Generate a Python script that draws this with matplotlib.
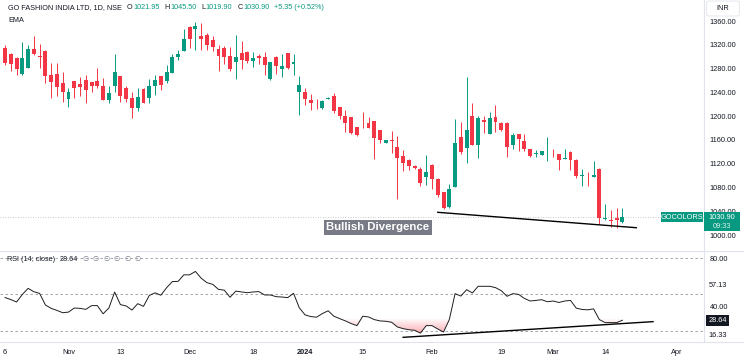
"""GO FASHION INDIA (GOCOLORS) daily candles with an RSI pane, TradingView look.

Values were read off a screenshot, so they are approximate.
"""

import matplotlib
matplotlib.use("Agg")
import matplotlib.pyplot as plt
import matplotlib.transforms as mtransforms
import numpy as np
from matplotlib import font_manager
from matplotlib.colors import LinearSegmentedColormap
from matplotlib.lines import Line2D
from matplotlib.patches import FancyBboxPatch, Rectangle
from matplotlib.path import Path

W, H = 744, 363
GREEN = "#089981"
RED = "#f23645"
TEXT = "#131722"
BORDER = "#e0e3eb"

# --- daily OHLC, oldest first (Oct 2023 .. Mar 2024) ---
opens = [1314.0, 1303.9, 1298.3, 1270.3, 1281.5, 1312.3, 1301.7, 1310.1, 1269.2, 1270.9,
         1255.1, 1228.8, 1259.1, 1253.5, 1260.8, 1256.8, 1259.1, 1251.2, 1227.1, 1250.7,
         1267.5, 1246.7, 1229.9, 1214.2, 1245.0, 1231.0, 1250.7, 1267.5, 1259.1, 1273.1,
         1300.0, 1310.1, 1349.4, 1346.0, 1334.8, 1336.5, 1328.1, 1312.3, 1315.2, 1301.1,
         1291.6, 1306.7, 1307.3, 1293.3, 1301.1, 1300.0, 1261.9, 1300.0, 1279.8, 1305.6,
         1287.7, 1240.0, 1240.0, 1227.1, 1219.3, 1213.1, 1229.3, 1234.4, 1215.3, 1200.7,
         1198.5, 1182.2, 1189.0, 1189.0, 1191.8, 1176.6, 1155.3, 1159.8, 1147.5, 1132.9,
         1126.2, 1116.1, 1111.0, 1098.1, 1117.7, 1094.2, 1071.8, 1047.6, 1081.3, 1164.3,
         1145.8, 1200.2, 1151.4, 1193.5, 1169.9, 1197.9, 1189.0, 1189.0, 1151.4, 1169.3,
         1158.7, 1144.1, 1135.7, 1135.1, 1130.6, 1136.3, 1136.3, 1127.8, 1140.2, 1126.2,
         1099.8, 1096.4, 1097.0, 1110.4, 1026.3, 1025.2, 1028.6, 1021.95]
highs = [1319.6, 1305.6, 1300.0, 1324.1, 1319.6, 1334.8, 1321.3, 1311.0, 1289.9, 1289.9,
         1274.8, 1246.7, 1259.5, 1266.4, 1269.2, 1257.5, 1280.4, 1263.6, 1250.7, 1304.5,
         1268.0, 1251.2, 1241.1, 1246.7, 1246.7, 1261.9, 1269.2, 1268.0, 1286.0, 1303.9,
         1311.2, 1346.0, 1351.6, 1357.8, 1357.2, 1339.3, 1334.8, 1319.6, 1318.0, 1315.7,
         1336.5, 1326.4, 1309.5, 1308.4, 1303.9, 1308.4, 1291.6, 1300.5, 1303.9, 1306.0,
         1304.5, 1267.5, 1246.7, 1237.2, 1228.2, 1227.1, 1231.6, 1238.3, 1216.0, 1210.3,
         1199.0, 1182.5, 1207.5, 1199.1, 1192.5, 1177.0, 1160.3, 1175.5, 1166.5, 1143.0,
         1127.3, 1117.0, 1114.9, 1134.6, 1119.4, 1095.3, 1072.9, 1085.8, 1194.6, 1189.5,
         1266.4, 1221.5, 1200.2, 1200.2, 1206.4, 1218.7, 1189.5, 1189.5, 1171.0, 1169.8,
         1169.9, 1144.5, 1142.9, 1141.8, 1165.4, 1144.1, 1136.8, 1144.1, 1140.6, 1127.3,
         1110.5, 1106.5, 1125.0, 1112.1, 1052.1, 1042.0, 1044.8, 1045.50]
lows = [1286.0, 1276.5, 1269.2, 1269.2, 1281.0, 1303.0, 1281.5, 1255.2, 1231.0, 1233.8,
        1224.3, 1214.8, 1231.0, 1233.8, 1222.6, 1241.1, 1247.9, 1226.5, 1221.5, 1241.1,
        1224.3, 1224.3, 1197.4, 1209.2, 1221.5, 1222.6, 1235.5, 1243.9, 1255.2, 1272.0,
        1294.4, 1309.5, 1314.0, 1311.2, 1311.2, 1311.2, 1310.1, 1275.9, 1287.1, 1275.9,
        1261.9, 1279.3, 1288.8, 1282.1, 1287.1, 1269.2, 1261.6, 1270.3, 1266.4, 1280.0,
        1269.2, 1201.9, 1218.7, 1210.3, 1211.4, 1212.0, 1228.2, 1204.7, 1194.6, 1173.8,
        1169.9, 1167.1, 1179.4, 1179.4, 1127.3, 1155.3, 1155.0, 1138.5, 1060.0, 1107.7,
        1109.3, 1111.0, 1083.0, 1084.1, 1076.8, 1064.5, 1043.7, 1044.8, 1081.3, 1136.3,
        1120.6, 1151.0, 1129.0, 1172.1, 1169.5, 1173.8, 1175.5, 1131.8, 1144.1, 1141.9,
        1141.9, 1131.8, 1131.8, 1134.6, 1124.5, 1130.6, 1109.4, 1127.3, 1109.4, 1095.3,
        1082.4, 1082.4, 1096.8, 1017.9, 1025.2, 1014.0, 1012.3, 1019.90]
closes = [1289.9, 1287.1, 1278.7, 1297.2, 1312.3, 1303.9, 1298.9, 1268.0, 1256.8, 1249.5,
          1240.0, 1241.1, 1247.9, 1249.5, 1244.0, 1251.2, 1250.7, 1227.1, 1239.4, 1273.7,
          1233.8, 1228.8, 1214.2, 1231.6, 1222.6, 1250.7, 1260.8, 1252.4, 1273.7, 1298.9,
          1303.9, 1329.7, 1329.7, 1351.6, 1329.7, 1319.6, 1316.8, 1301.1, 1300.0, 1279.3,
          1300.0, 1294.4, 1293.3, 1298.3, 1298.3, 1286.0, 1290.5, 1284.3, 1284.3, 1280.4,
          1291.6, 1252.3, 1228.2, 1221.5, 1218.1, 1225.4, 1230.5, 1208.6, 1200.2, 1187.9,
          1172.1, 1168.2, 1187.9, 1180.6, 1163.7, 1159.8, 1159.8, 1158.1, 1130.1, 1120.5,
          1116.1, 1112.1, 1086.9, 1106.5, 1093.6, 1067.3, 1044.8, 1077.4, 1154.2, 1140.2,
          1176.6, 1151.4, 1196.3, 1189.5, 1197.4, 1190.7, 1176.6, 1148.6, 1168.2, 1160.9,
          1144.1, 1133.4, 1137.4, 1141.3, 1131.2, 1135.5, 1126.2, 1128.9, 1126.2, 1099.2,
          1100.4, 1095.4, 1100.9, 1029.1, 1029.1, 1024.2, 1025.55, 1030.90]

# RSI(14) of the closes, one value per candle
rsi = [47.5, 45.8, 43.8, 50.0, 55.1, 52.3, 50.9, 41.3, 38.5, 36.8,
       34.9, 35.4, 38.8, 38.5, 37.7, 40.8, 40.8, 34.0, 38.8, 52.0,
       41.6, 40.5, 37.1, 42.4, 40.2, 49.2, 51.4, 49.4, 55.6, 60.7,
       60.9, 66.3, 66.3, 69.1, 63.5, 59.8, 58.4, 54.2, 53.6, 47.7,
       52.8, 52.1, 51.5, 52.1, 52.4, 49.6, 49.6, 48.2, 47.9, 47.4,
       51.0, 39.0, 33.1, 31.7, 31.2, 34.2, 36.5, 32.0, 30.0, 28.1,
       25.9, 24.2, 32.0, 31.4, 29.2, 28.1, 27.8, 27.0, 23.1, 21.7,
       20.8, 20.3, 18.0, 24.2, 24.2, 21.4, 18.9, 29.2, 50.7, 48.7,
       54.0, 51.3, 56.8, 56.8, 56.8, 55.7, 53.2, 48.5, 50.7, 50.1,
       46.8, 44.6, 45.1, 45.7, 44.0, 44.6, 43.4, 44.6, 45.1, 38.7,
       37.6, 37.3, 38.1, 29.2, 26.7, 26.7, 26.7, 28.64]

tick_pos = [0, 11, 20, 32, 43, 52, 62, 74, 86, 95, 104, 116.5]
tick_labels = ["6", "Nov", "13", "Dec", "18", "2024", "15", "Feb", "19", "Mar", "14", "Apr"]
price_ticks = [1000, 1040, 1080, 1120, 1160, 1200, 1240, 1280, 1320, 1360]
rsi_ticks = [80, 40]
rsi_bands = [80, 50, 20]
rsi_marks = [57.13, 16.33]

# user-drawn divergence trendlines (candle index, value)
div_price_x = [75.0, 109.4]
div_price_y = [1038.2, 1012.3]
div_rsi_x = [69.0, 112.3]
div_rsi_y = [14.5, 27.5]

names = {f.name for f in font_manager.fontManager.ttflist}
FONT = "Liberation Sans" if "Liberation Sans" in names else "DejaVu Sans"
plt.rcParams["font.family"] = [FONT, "DejaVu Sans"]

fig = plt.figure(figsize=(W / 100, H / 100), dpi=100)
fig.patch.set_facecolor("white")
ax = fig.add_axes([0, 1 - 250 / H, 704 / W, 250 / H])
ax_rsi = fig.add_axes([0, 1 - 341 / H, 704 / W, 90 / H])

idx = np.arange(len(closes))
o, c = np.array(opens), np.array(closes)
hi, lo = np.array(highs), np.array(lows)
colors = np.where(c >= o, GREEN, RED)

# candles
ax.vlines(idx, lo, hi, colors=colors, lw=0.7, zorder=2)
ax.bar(idx, np.maximum(np.abs(c - o), 1.3), bottom=np.minimum(o, c), width=0.68,
       color=colors, linewidth=0, zorder=3)
ax.axhline(c[-1], color="#b2b5be", lw=0.6, ls=(0, (1, 2)), zorder=1)
ax.plot(div_price_x, div_price_y, color="black", lw=1.0, zorder=4)
ax.text(64.6, 1012.8, "Bullish Divergence", ha="center", va="center", color="white",
        fontsize=8.2, fontweight="bold", zorder=5,
        bbox=dict(boxstyle="square,pad=0.22", fc="#787b86", ec="none"))

ax.set_xlim(-0.87, 121.14)
ax.set_ylim(974.8, 1395.4)

# RSI pane
r = np.array(rsi)
for level in rsi_bands:
    ax_rsi.axhline(level, color="#9598a1", lw=0.6, ls=(0, (3, 3)), zorder=1)
ax_rsi.plot(idx, r, color="#1e1e1e", lw=0.7, zorder=3)
ax_rsi.plot(div_rsi_x, div_rsi_y, color="black", lw=1.0, zorder=4)

# oversold gradient fill (transparent at 30, red toward 0)
fill = ax_rsi.fill_between(idx, r, 30, where=r < 30, interpolate=True,
                           facecolor="none", edgecolor="none")
red_rgb = matplotlib.colors.to_rgb(RED)
cmap = LinearSegmentedColormap.from_list("os", [(*red_rgb, 0.0), (*red_rgb, 1.0)])
grad = np.linspace(1, 0, 256).reshape(-1, 1)
im = ax_rsi.imshow(grad, extent=[idx[0], idx[-1], 0, 30], origin="lower",
                   aspect="auto", cmap=cmap, vmin=0, vmax=1, zorder=2)
im.set_clip_path(Path.make_compound_path(*fill.get_paths()), transform=ax_rsi.transData)

ax_rsi.set_xlim(-0.87, 121.14)
ax_rsi.set_ylim(11.46, 86.05)

# axes styling
for a, ticks in ((ax, price_ticks), (ax_rsi, rsi_ticks)):
    a.yaxis.tick_right()
    a.set_yticks(ticks)
    a.set_yticklabels([f"{v:.2f}" for v in ticks])
    a.tick_params(axis="y", length=0, pad=4.0, labelsize=5.3, labelcolor=TEXT)
    for side in ("top", "left", "bottom"):
        a.spines[side].set_visible(False)
    a.spines["right"].set_color(BORDER)
    a.spines["right"].set_linewidth(0.8)
    a.set_facecolor("none")

ax.set_xticks([])
ax_rsi.set_xticks(tick_pos)
ax_rsi.set_xticklabels(tick_labels)
ax_rsi.tick_params(axis="x", length=0, pad=5.5, labelsize=5.3, labelcolor=TEXT)
ax_rsi.get_xticklabels()[tick_labels.index("2024")].set_fontweight("bold")

for y in (250.5, 341.5):
    fig.add_artist(Line2D([0, 1], [1 - y / H] * 2, transform=fig.transFigure,
                          color=BORDER, lw=0.8))

# right-axis labels on the RSI pane
lab_tr = mtransforms.blended_transform_factory(ax_rsi.transAxes, ax_rsi.transData)
for v in rsi_marks:
    ax_rsi.text(1.0065, v, f"{v:.2f}", transform=lab_tr, ha="left", va="center",
                fontsize=5.3, color=TEXT, clip_on=False, zorder=6,
                bbox=dict(boxstyle="square,pad=0.15", fc="white", ec="none"))
ax_rsi.text(1.0065, r[-1], f"{r[-1]:.2f}", transform=lab_tr, ha="left", va="center",
            fontsize=5.3, color="white", clip_on=False, zorder=7,
            bbox=dict(boxstyle="square,pad=0.3", fc=TEXT, ec="none"))


def box(x0, y0, x1, y1, color):
    fig.add_artist(Rectangle((x0 / W, 1 - y1 / H), (x1 - x0) / W, (y1 - y0) / H,
                             transform=fig.transFigure, fc=color, ec="none", zorder=10))


# last-price labels
y_last = H - ax.transData.transform((0, c[-1]))[1]
box(660.7, y_last - 4.3, 703.3, y_last + 5.1, GREEN)
fig.text(682 / W, 1 - (y_last + 0.4) / H, "GOCOLORS", color="white", fontsize=5.3,
         ha="center", va="center", zorder=11)
box(704.3, y_last - 4.3, 740, y_last + 14.4, GREEN)
fig.text(722 / W, 1 - (y_last + 0.4) / H, f"{c[-1]:.2f}", color="white", fontsize=5.3,
         ha="center", va="center", zorder=11)
fig.text(722 / W, 1 - (y_last + 10.0) / H, "09:33", color="#d4efe9", fontsize=5.3,
         ha="center", va="center", zorder=11)

fig.add_artist(FancyBboxPatch((706.7 / W, 1 - 16 / H), 32.6 / W, 15 / H,
                              boxstyle="round,pad=0,rounding_size=0.004",
                              transform=fig.transFigure, fc="white", ec=BORDER,
                              lw=0.6, zorder=10))
fig.text(723 / W, 1 - 8.5 / H, "INR", color=TEXT, fontsize=5.3, ha="center",
         va="center", zorder=11)

# legend lines, drawn piece by piece so the values can be coloured
renderer = fig.canvas.get_renderer()


def text_run(x, y, pieces, size=5.2):
    for s, color, gap in pieces:
        x += gap
        t = fig.text(x / W, 1 - y / H, s, color=color, fontsize=size, ha="left",
                     va="center", zorder=11)
        x += t.get_window_extent(renderer).width


chg = c[-1] - c[-2]
text_run(8, 7.5, [
    ("GO FASHION INDIA LTD, 1D, NSE", TEXT, 0),
    ("O", TEXT, 5), (f"{o[-1]:.2f}", GREEN, 0.5),
    ("H", TEXT, 5), (f"{hi[-1]:.2f}", GREEN, 0.5),
    ("L", TEXT, 5), (f"{lo[-1]:.2f}", GREEN, 0.5),
    ("C", TEXT, 5), (f"{c[-1]:.2f}", GREEN, 0.5),
    (f"{chg:+.2f} ({chg / c[-2] * 100:+.2f}%)", GREEN, 5),
])
text_run(8, 20, [("EMA", TEXT, 0)])
text_run(7, 259.5, [("RSI (14; close)", TEXT, 0), (f"{r[-1]:.2f}", TEXT, 5)]
         + [("\u2205", "#787b86", 4)] * 6)

fig.savefig("out.png", dpi=100, facecolor="white")
